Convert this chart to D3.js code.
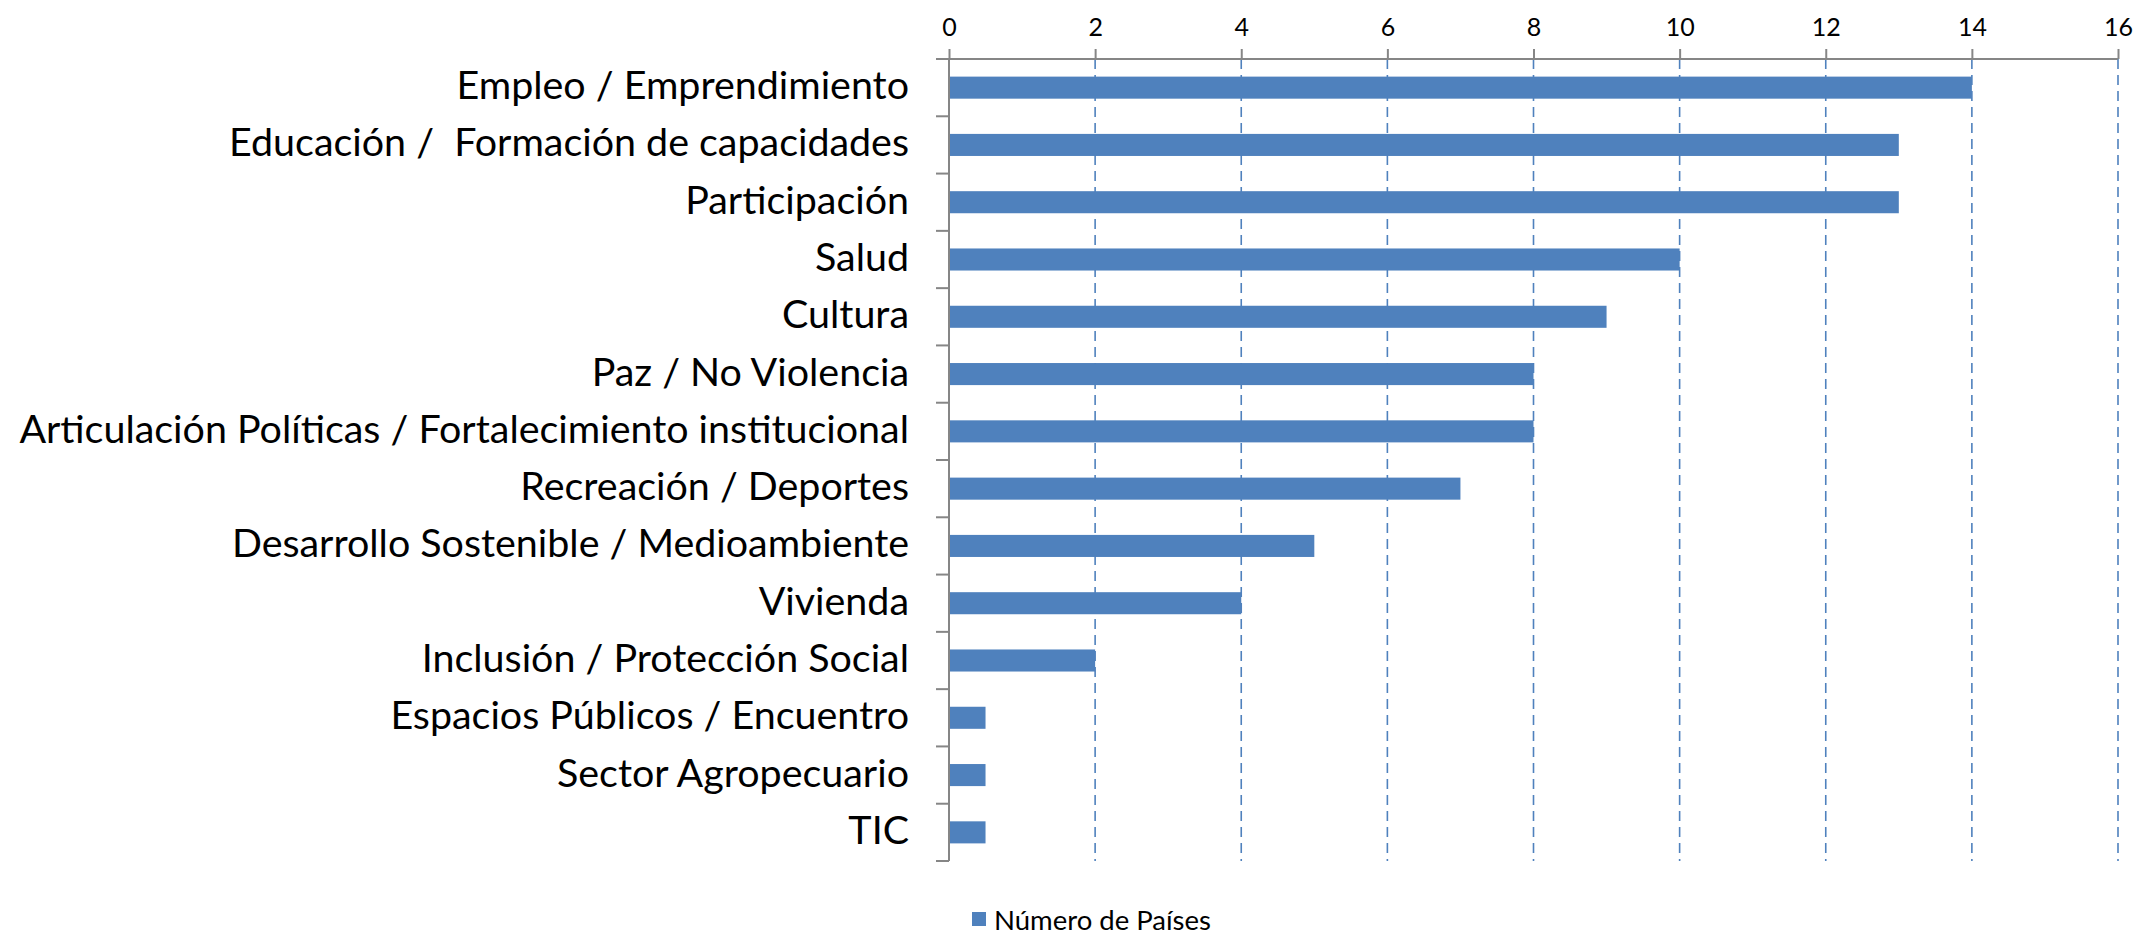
<!DOCTYPE html>
<html><head><meta charset="utf-8">
<script src="https://cdn.jsdelivr.net/npm/d3@7"></script>
<style>body{margin:0;background:#fff}svg{display:block}</style>
</head><body>
<script>
const categories = ["Empleo / Emprendimiento","Educación /  Formación de capacidades","Participación","Salud","Cultura","Paz / No Violencia","Articulación Políticas / Fortalecimiento institucional","Recreación / Deportes","Desarrollo Sostenible / Medioambiente","Vivienda","Inclusión / Protección Social","Espacios Públicos / Encuentro","Sector Agropecuario","TIC"];
const values = [14,13,13,10,9,8,8,7,5,4,2,0.5,0.5,0.5];
const tickValues = [0,2,4,6,8,10,12,14,16];
const seriesName = "Número de Países";

const W=2144,H=934;
const font = "Lato, 'Open Sans', sans-serif";
const svg = d3.select("body").append("svg").attr("width",W).attr("height",H);
const x = d3.scaleLinear().domain([0,16]).range([949,2118]);
const y = d3.scaleBand().domain(categories).range([59,861]).paddingInner(0.615).paddingOuter(0.3075);
const yb = d3.scaleBand().domain(categories).range([59,861]);
const blue="#4F81BD", gray="#868686";

// gridlines
svg.append("g").selectAll("line").data(tickValues.filter(d=>d>0)).join("line")
  .attr("x1",d=>x(d)).attr("x2",d=>x(d)).attr("y1",59).attr("y2",861)
  .attr("stroke",blue).attr("stroke-width",1.6).attr("stroke-dasharray","10,6");

// bars
svg.append("g").selectAll("rect").data(values).join("rect")
  .attr("x",x(0)).attr("y",(d,i)=>y(categories[i])).attr("height",y.bandwidth())
  .attr("width",d=>x(d)-x(0)).attr("fill",blue);

// top axis
const xa = svg.append("g").attr("transform","translate(0,59)")
  .call(d3.axisTop(x).tickValues(tickValues).tickSize(10).tickPadding(13).tickFormat(d3.format("d")));
xa.select(".domain").attr("stroke",gray).attr("stroke-width",2).attr("d",`M${x(0)-13},0H${x(16)}`);
xa.selectAll(".tick line").attr("stroke",gray).attr("stroke-width",2);
xa.selectAll(".tick text").attr("font-family",font).attr("font-size",25).attr("fill","#000");

// left axis
const ya = svg.append("g").attr("transform",`translate(${x(0)},0)`);
ya.append("line").attr("x1",0).attr("x2",0).attr("y1",59).attr("y2",861).attr("stroke",gray).attr("stroke-width",2);
const bounds = categories.map(c=>yb(c)+yb.bandwidth()).concat([59]);
ya.selectAll("line.t").data(bounds).join("line").attr("class","t")
  .attr("x1",-13).attr("x2",0).attr("y1",d=>d).attr("y2",d=>d).attr("stroke",gray).attr("stroke-width",2);

// labels
const labels = svg.append("g").selectAll("text").data(categories).join("text")
  .attr("x",909).attr("y",d=>yb(d)+yb.bandwidth()/2-4).attr("text-anchor","end").attr("dominant-baseline","central")
  .attr("xml:space","preserve").style("white-space","pre")
  .attr("font-family",font).attr("font-size",32).attr("fill","#000").text(d=>d);
let maxw = 0; labels.each(function(){maxw=Math.max(maxw,this.getComputedTextLength());});
labels.attr("font-size",32*890/maxw);

// legend
const lg = svg.append("g");
lg.append("rect").attr("x",972).attr("y",912).attr("width",14).attr("height",14).attr("fill",blue);
const lt = lg.append("text").attr("x",994).attr("y",919).attr("dominant-baseline","central")
  .attr("font-family",font).attr("font-size",22).attr("fill","#000").text(seriesName);
const lw = lt.node().getComputedTextLength();
lt.attr("font-size",22*217/lw);
</script>
</body></html>
